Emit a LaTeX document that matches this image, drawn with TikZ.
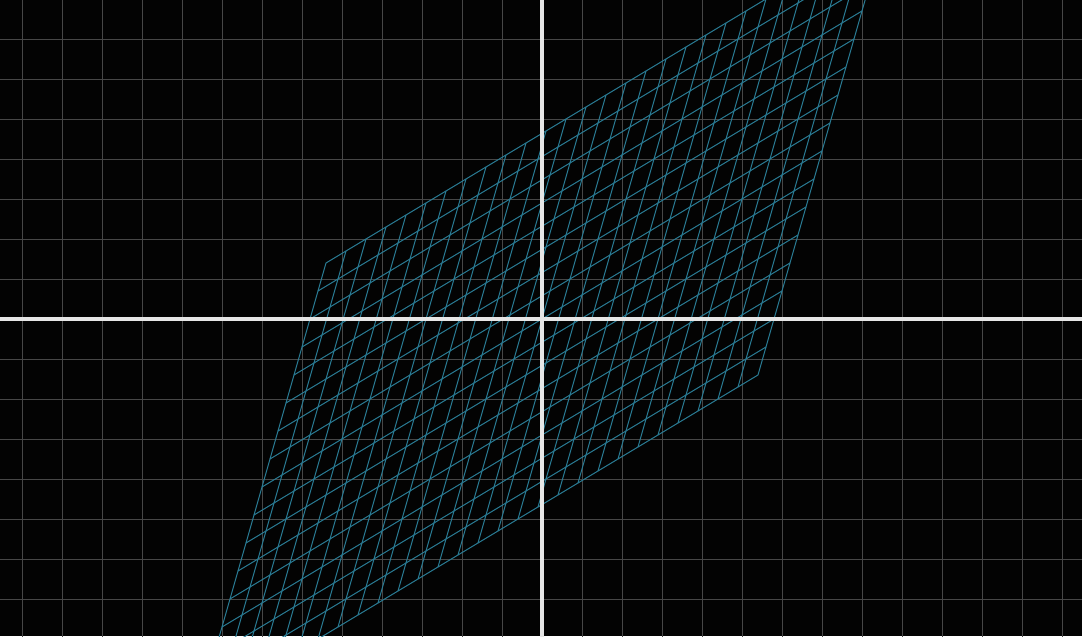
\documentclass[tikz,border=0pt]{standalone}
\definecolor{bgcol}{HTML}{030303}
\definecolor{gridcol}{HTML}{474747}
\definecolor{axiscol}{HTML}{E6E6E6}
\definecolor{meshcol}{HTML}{2A7D96}
\tikzset{
  bggrid/.style={draw=gridcol, line width=0.7pt},
  axisline/.style={draw=axiscol, line width=2.5pt},
  meshline/.style={draw=meshcol, line width=0.7pt}
}
\begin{document}
\begin{tikzpicture}
\fill[bgcol] (-13.55,-7.925) rectangle (13.5,7.975);
\useasboundingbox (-13.55,-7.925) rectangle (13.5,7.975);
\begin{scope}
\clip (-13.55,-7.925) rectangle (13.5,7.975);
\foreach \x in {-13,...,13} \draw[bggrid] (\x,-8) -- (\x,8);
\foreach \y in {-7,...,7} \draw[bggrid] (-14,\y) -- (14,\y);
% transformed mesh: u=(0.5,0.3), v=(0.2,0.7)
\begin{scope}[x={(0.5cm,0.3cm)}, y={(0.2cm,0.7cm)}]
\foreach \i in {-14,...,14} \draw[meshline] (\i,-8) -- (\i,8);
\foreach \j in {-8,...,8} \draw[meshline] (-14,\j) -- (14,\j);
\end{scope}
\draw[axisline] (0,-8) -- (0,8);
\draw[axisline] (-14,0) -- (14,0);
\end{scope}
\end{tikzpicture}
\end{document}
